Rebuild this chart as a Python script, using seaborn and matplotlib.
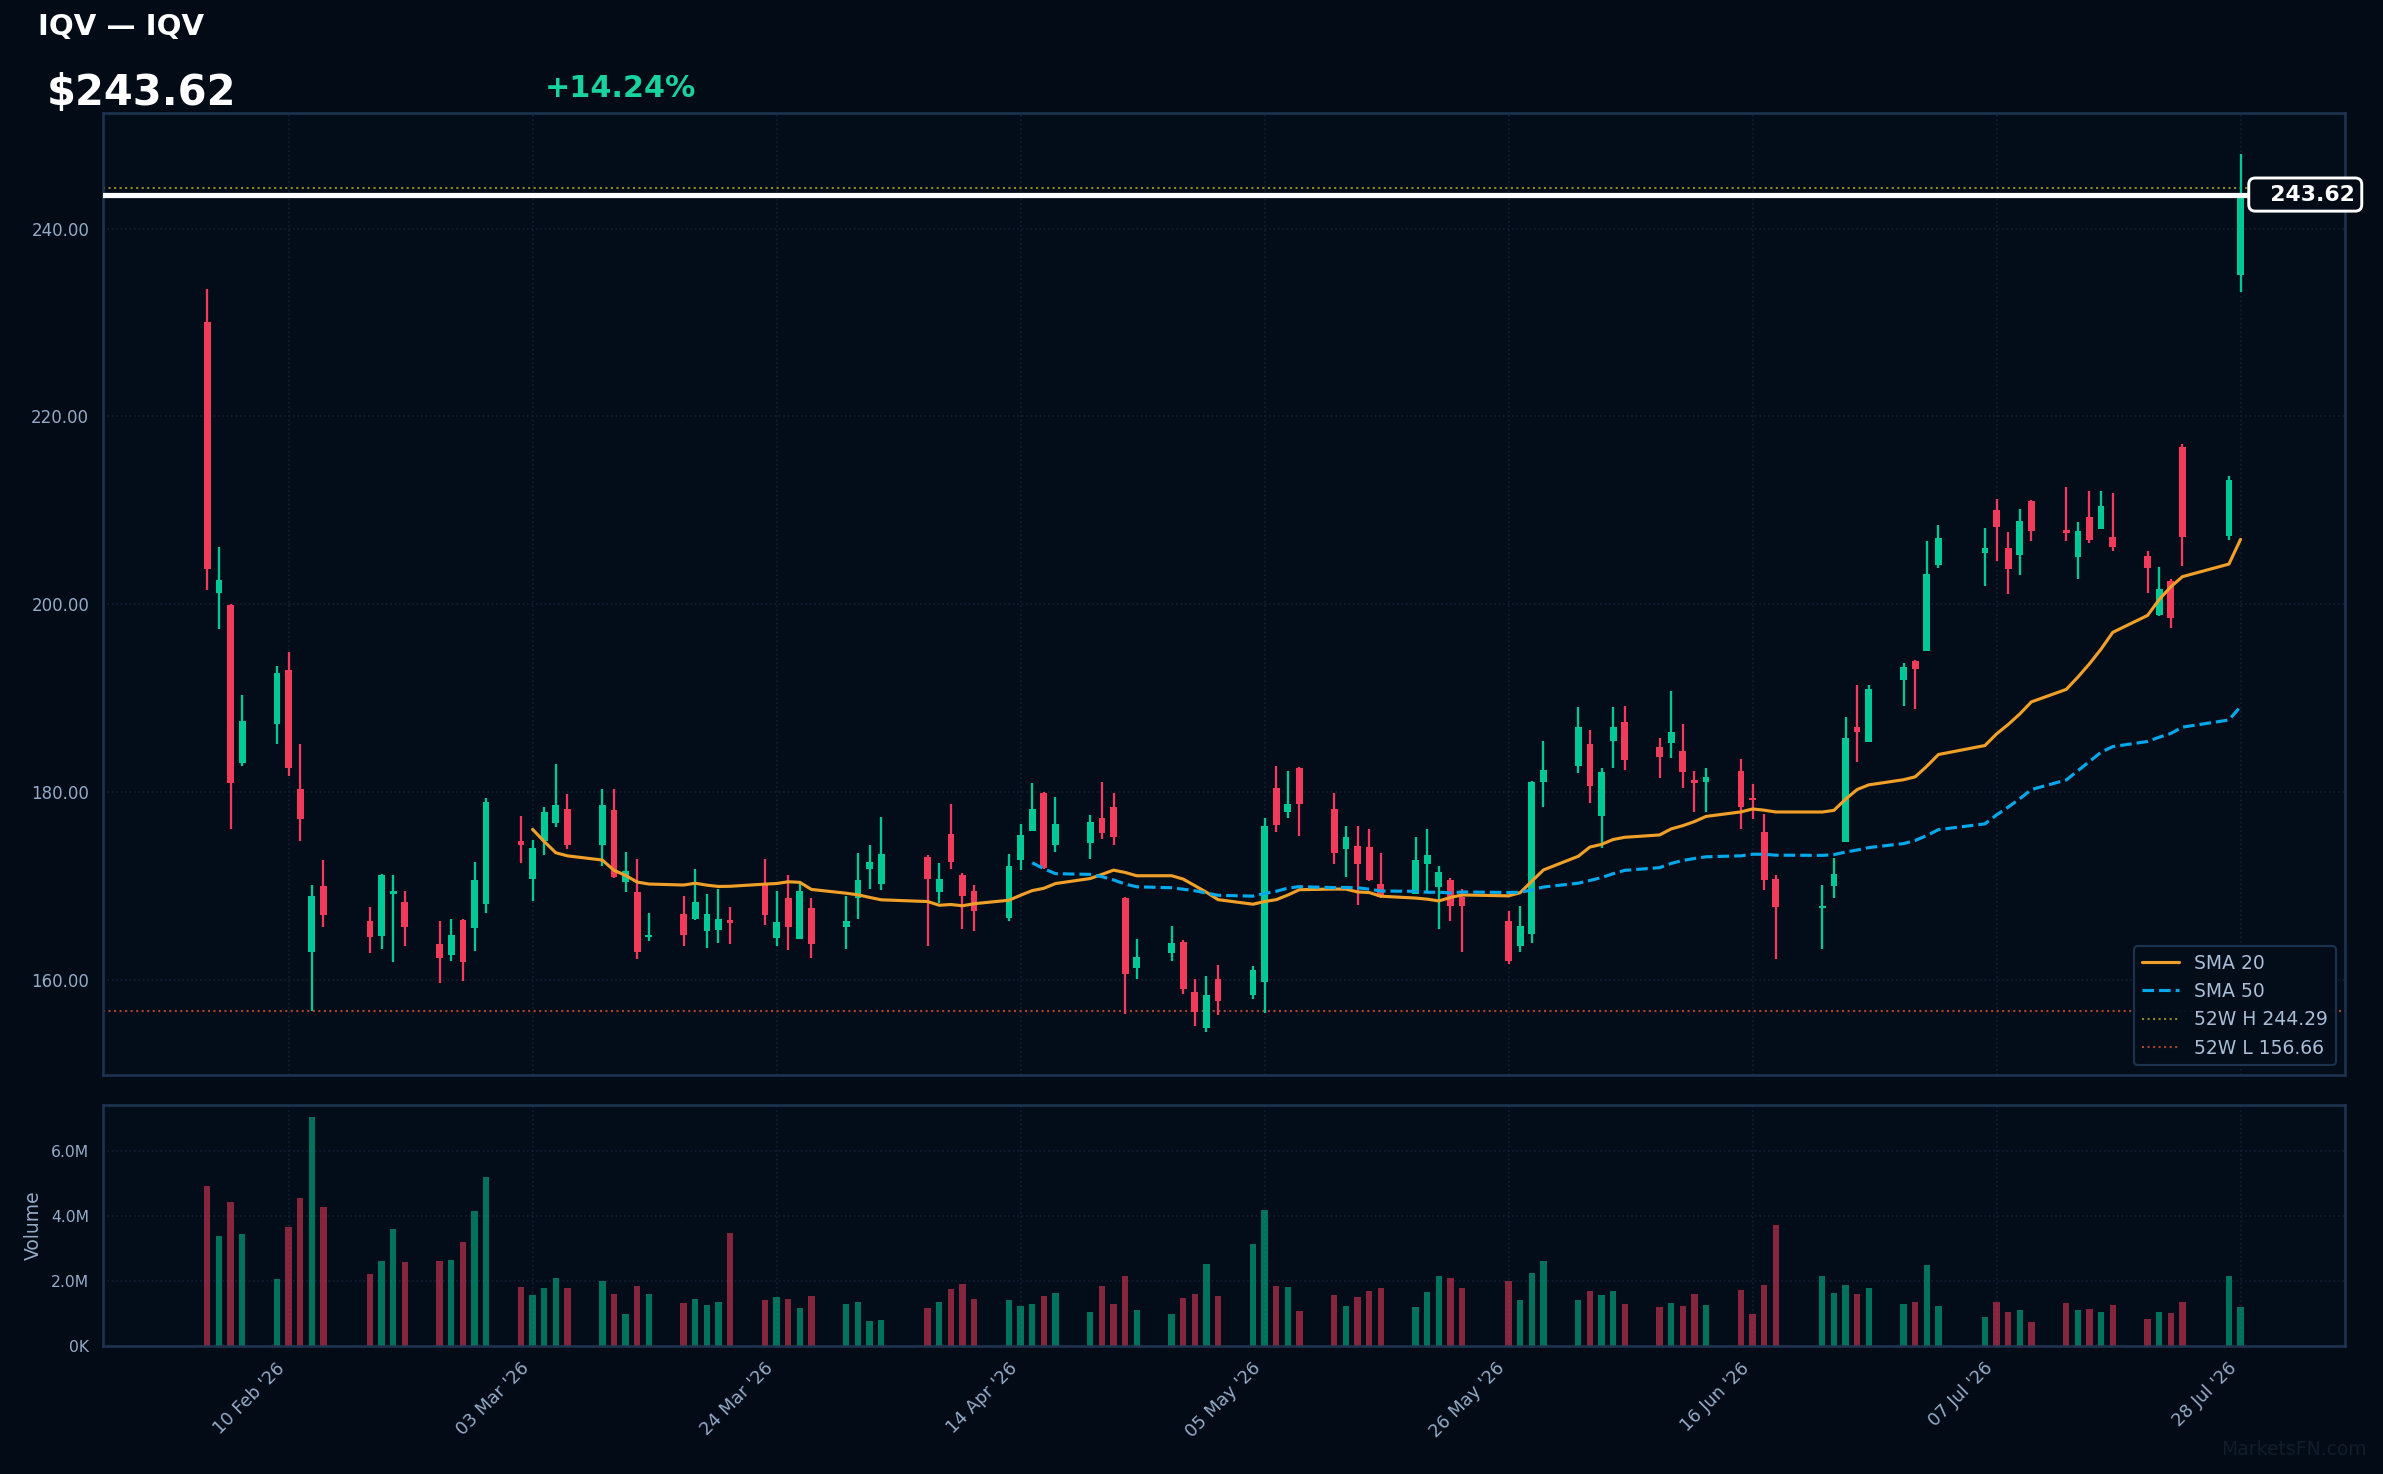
import numpy as np
import pandas as pd
import matplotlib
matplotlib.use('Agg')
import matplotlib.pyplot as plt
import matplotlib.dates as mdates
from matplotlib.ticker import FuncFormatter
import seaborn as sns

ticker = 'IQV'
first_day = '2026-02-03'
last_day = '2026-07-28'
# holidays and days with no bar
skip_days = ['2026-02-16', '2026-04-03', '2026-05-25', '2026-06-19', '2026-07-03', '2026-07-24']

opens = [230.1, 201.2, 199.9, 183.1, 187.2, 193.0, 180.3, 162.9, 170.0,
         166.2, 164.7, 169.1, 168.3, 163.8, 162.6, 166.4, 165.5, 168.1,
         174.8, 170.7, 174.8, 176.7, 178.2, 174.4, 178.1, 170.4, 169.3, 164.5,
         167.0, 166.5, 165.2, 165.3, 166.4, 170.2, 164.4, 168.7, 164.3, 167.6,
         165.6, 168.7, 171.8, 170.2, 173.1, 169.3, 175.5, 171.2, 169.5,
         166.6, 172.7, 175.8, 179.9, 174.3, 174.6, 177.2, 178.4, 168.7, 161.3,
         162.8, 164.0, 158.65, 154.9, 160.1, 158.4, 159.8, 180.4, 177.9, 182.5,
         178.2, 173.9, 174.2, 174.1, 170.2, 169.1, 172.3, 169.9, 170.6, 168.8,
         166.2, 163.6, 164.9, 181.1, 182.8, 185.1, 177.4, 185.4, 187.4,
         184.8, 185.2, 184.4, 181.3, 181.1, 182.2, 179.4, 175.7, 170.7,
         167.6, 170.0, 174.7, 186.9, 185.3, 191.9, 193.9, 195.0, 204.2,
         205.4, 210.0, 206.0, 205.2, 211.0, 207.9, 205.0, 209.3, 208.0, 207.1,
         205.1, 198.8, 202.5, 216.7, 207.3, 235.0]
highs = [233.6, 206.1, 200.05, 190.3, 193.4, 194.9, 185.1, 170.1, 172.7,
         167.7, 171.3, 171.2, 169.5, 166.3, 166.5, 166.5, 172.5, 179.4,
         177.4, 174.9, 178.4, 183.0, 179.8, 180.3, 180.3, 173.6, 172.9, 167.1,
         168.9, 171.8, 169.1, 169.7, 167.7, 172.9, 169.4, 171.2, 170.3, 168.7,
         168.9, 173.5, 174.4, 177.3, 173.3, 172.4, 178.7, 171.4, 170.05,
         173.4, 176.6, 180.9, 180.0, 179.5, 177.5, 181.1, 179.9, 168.8, 164.3,
         165.7, 164.2, 160.1, 160.4, 161.6, 161.5, 177.2, 182.8, 182.2, 182.7,
         179.9, 176.4, 176.4, 176.1, 173.5, 175.2, 176.1, 172.1, 170.8, 169.7,
         167.3, 167.9, 181.2, 185.4, 189.0, 186.6, 182.5, 189.0, 189.1,
         185.7, 190.8, 187.2, 182.2, 182.6, 183.5, 180.8, 177.7, 171.1,
         170.05, 173.0, 188.0, 191.4, 191.4, 193.7, 194.1, 206.7, 208.4,
         208.1, 211.2, 207.7, 210.1, 211.1, 212.5, 208.8, 212.0, 212.0, 211.8,
         205.7, 204.0, 202.7, 217.1, 213.6, 247.9]
lows = [201.5, 197.3, 176.0, 182.8, 185.1, 181.7, 174.8, 156.66, 165.6,
        162.8, 163.3, 161.9, 163.6, 159.7, 162.0, 159.9, 163.1, 167.1,
        172.4, 168.4, 173.3, 176.3, 173.9, 172.1, 170.8, 169.3, 162.2, 164.1,
        163.6, 166.4, 163.4, 163.9, 163.8, 165.8, 163.6, 163.2, 164.3, 162.3,
        163.3, 166.5, 169.7, 169.6, 163.6, 168.2, 171.8, 165.4, 165.2,
        166.2, 171.7, 175.8, 171.8, 173.6, 172.9, 175.0, 174.4, 156.3, 160.1,
        162.0, 158.5, 155.1, 154.4, 156.2, 157.9, 156.5, 175.7, 177.2, 175.3,
        172.3, 170.9, 168.0, 170.5, 168.7, 169.1, 169.3, 165.4, 166.3, 163.0,
        161.7, 162.9, 163.9, 178.4, 182.0, 178.8, 174.0, 182.5, 182.3,
        181.5, 183.6, 180.4, 177.9, 177.9, 176.1, 177.1, 169.6, 162.2,
        163.3, 168.7, 174.7, 183.2, 185.3, 189.1, 188.8, 195.0, 203.9,
        201.9, 204.6, 201.1, 203.1, 206.7, 206.7, 202.7, 206.5, 208.0, 205.7,
        201.2, 198.7, 197.5, 204.1, 206.8, 233.2]
closes = [203.7, 202.6, 181.0, 187.5, 192.7, 182.5, 177.1, 168.9, 166.9,
          164.5, 171.1, 169.3, 165.6, 162.3, 164.8, 161.9, 170.6, 178.9,
          174.3, 174.0, 177.9, 178.6, 174.4, 178.6, 170.9, 171.6, 162.9, 164.7,
          164.8, 168.3, 167.0, 166.5, 166.0, 166.9, 166.1, 165.6, 169.4, 163.8,
          166.2, 170.6, 172.5, 173.4, 170.7, 170.7, 172.5, 168.9, 167.3,
          172.1, 175.4, 178.2, 171.9, 176.6, 176.8, 175.6, 175.2, 160.6, 162.4,
          163.9, 159.0, 156.6, 158.4, 157.7, 161.0, 176.4, 176.5, 178.7, 178.7,
          173.5, 175.2, 172.3, 170.6, 168.8, 172.8, 173.25, 171.5, 167.9, 167.8,
          162.0, 165.7, 181.1, 182.3, 186.9, 180.6, 182.1, 186.9, 183.4,
          183.7, 186.4, 182.1, 181.0, 181.6, 178.4, 179.1, 170.6, 167.7,
          167.8, 171.3, 185.7, 186.4, 191.0, 193.3, 193.1, 203.2, 207.0,
          206.0, 208.2, 203.7, 208.9, 207.8, 207.6, 207.8, 206.8, 210.5, 206.1,
          203.8, 201.6, 198.5, 207.2, 213.25, 243.62]
volumes_m = [4.91, 3.37, 4.42, 3.44, 2.05, 3.65, 4.54, 7.04, 4.27,
             2.21, 2.61, 3.59, 2.57, 2.61, 2.64, 3.19, 4.14, 5.19,
             1.81, 1.56, 1.77, 2.08, 1.77, 1.99, 1.59, 0.97, 1.84, 1.59,
             1.31, 1.44, 1.25, 1.34, 3.47, 1.41, 1.50, 1.44, 1.16, 1.53,
             1.28, 1.34, 0.76, 0.79, 1.16, 1.34, 1.74, 1.90, 1.44,
             1.41, 1.22, 1.28, 1.53, 1.62, 1.04, 1.84, 1.28, 2.14, 1.10,
             0.97, 1.47, 1.59, 2.51, 1.53, 3.13, 4.17, 1.84, 1.81, 1.07,
             1.56, 1.22, 1.50, 1.68, 1.77, 1.19, 1.65, 2.14, 2.08, 1.77,
             1.99, 1.41, 2.24, 2.61, 1.41, 1.68, 1.56, 1.68, 1.28,
             1.19, 1.31, 1.22, 1.59, 1.25, 1.71, 0.97, 1.87, 3.71,
             2.14, 1.62, 1.87, 1.59, 1.77, 1.28, 1.34, 2.48, 1.22,
             0.88, 1.34, 1.04, 1.10, 0.73, 1.31, 1.10, 1.13, 1.04, 1.25,
             0.82, 1.04, 1.01, 1.34, 2.14, 1.19]
high_52w = 244.29
low_52w = 156.66
pct_change = 14.24

bg = '#020b16'
panel = '#030d1a'
spine_col = '#1d3552'
grid_col = '#122033'
text_col = '#94abc8'
up_col = '#00c896'
down_col = '#f23b5b'

sns.set_theme(style='dark', rc={
    'axes.facecolor': panel, 'figure.facecolor': bg,
    'axes.edgecolor': spine_col, 'text.color': 'white',
    'xtick.color': text_col, 'ytick.color': text_col,
    'axes.labelcolor': text_col,
})
plt.rcParams['font.family'] = ['DejaVu Sans']

dates = pd.bdate_range(first_day, last_day)
dates = dates[~dates.isin(pd.to_datetime(skip_days))]
df = pd.DataFrame({'Date': dates, 'Open': opens, 'High': highs, 'Low': lows,
                   'Close': closes, 'Volume': np.array(volumes_m) * 1e6})
df['SMA20'] = df['Close'].rolling(20).mean()
df['SMA50'] = df['Close'].rolling(50).mean()
up = df['Close'] >= df['Open']
colors = np.where(up, up_col, down_col)
last = df['Close'].iloc[-1]

fig = plt.figure(figsize=(2383 / 150, 1474 / 150), dpi=150)
ax = fig.add_axes([0.0431, 0.2710, 0.9410, 0.6523])
axv = fig.add_axes([0.0431, 0.0870, 0.9410, 0.1635], sharex=ax)

# candles
ax.vlines(df['Date'], df['Low'], df['High'], colors=colors, linewidth=1.1, zorder=2)
body_lo = np.minimum(df['Open'], df['Close'])
body_h = np.maximum((df['Close'] - df['Open']).abs(), 0.3)
ax.bar(df['Date'], body_h, bottom=body_lo, width=0.58, color=colors, linewidth=0, zorder=3)

sns.lineplot(data=df.dropna(subset=['SMA20']), x='Date', y='SMA20', ax=ax,
             color='#f0a028', linewidth=1.5, label='SMA 20', zorder=4)
sns.lineplot(data=df.dropna(subset=['SMA50']), x='Date', y='SMA50', ax=ax,
             color='#00a8ec', linewidth=1.5, linestyle='--', label='SMA 50', zorder=4)
ax.axhline(high_52w, color='#8f8a1f', linestyle=':', linewidth=1.0, label=f'52W H {high_52w:.2f}', zorder=1)
ax.axhline(low_52w, color='#a8452f', linestyle=':', linewidth=1.0, label=f'52W L {low_52w:.2f}', zorder=1)
ax.axhline(last, color='white', linewidth=2.5, zorder=5)
ax.text(1.0045, last, f'  {last:.2f}', transform=ax.get_yaxis_transform(), ha='right', va='center',
        fontsize=10.5, fontweight='bold', color='white', zorder=6, clip_on=False,
        bbox=dict(boxstyle='round,pad=0.3', fc=bg, ec='white', lw=1.4))

ax.set_xlim(pd.Timestamp('2026-01-25'), pd.Timestamp('2026-08-06'))
ax.set_ylim(149.9, 252.3)
ax.set_yticks([160, 180, 200, 220, 240])
ax.yaxis.set_major_formatter(FuncFormatter(lambda v, p: f'{v:.2f}'))
ax.set_xlabel('')
ax.set_ylabel('')
ax.tick_params(axis='x', labelbottom=False, length=0)
ax.tick_params(axis='y', labelsize=8, length=3)
ax.grid(True, color=grid_col, linestyle=':', linewidth=0.8)

leg = ax.legend(loc='lower right', fontsize=9, facecolor=panel, edgecolor=spine_col,
                labelcolor='#a9bdd6', framealpha=0.95, fancybox=True)

# volume
axv.bar(df['Date'], df['Volume'], width=0.55, color=colors, alpha=0.55, linewidth=0)
axv.set_ylim(0, 7.415e6)
axv.set_yticks([0, 2e6, 4e6, 6e6])
axv.yaxis.set_major_formatter(FuncFormatter(
    lambda v, p: f'{v / 1e6:.1f}M' if v >= 1e6 else f'{v / 1e3:.0f}K'))
axv.set_ylabel('Volume', fontsize=9, color=text_col)
axv.grid(True, color=grid_col, linestyle=':', linewidth=0.8)
tick_dates = pd.date_range('2026-02-10', last_day, freq='21D')
axv.set_xticks(tick_dates)
axv.xaxis.set_major_formatter(mdates.DateFormatter("%d %b '%y"))
axv.tick_params(axis='x', labelsize=8.5, length=3, rotation=45)
axv.tick_params(axis='y', labelsize=7.5, length=3)
for lbl in axv.get_xticklabels():
    lbl.set_ha('right')
axv.set_xlabel('')

for a in (ax, axv):
    for s in a.spines.values():
        s.set_color(spine_col)
        s.set_linewidth(1.2)

fig.text(0.016, 0.9817, f'{ticker} \u2014 {ticker}', fontsize=14, fontweight='bold',
         color='white', ha='left', va='center')
fig.text(0.0195, 0.9369, f'${last:.2f}', fontsize=20, fontweight='bold',
         color='white', ha='left', va='center')
fig.text(0.2287, 0.9400, f'+{pct_change:.2f}%', fontsize=14.5, fontweight='bold',
         color='#18d2a0', ha='left', va='center')
fig.text(0.9932, 0.0129, 'MarketsFN.com', fontsize=9, color='#111d2c',
         ha='right', va='baseline')

fig.savefig('out.png', dpi=150, facecolor=bg)
